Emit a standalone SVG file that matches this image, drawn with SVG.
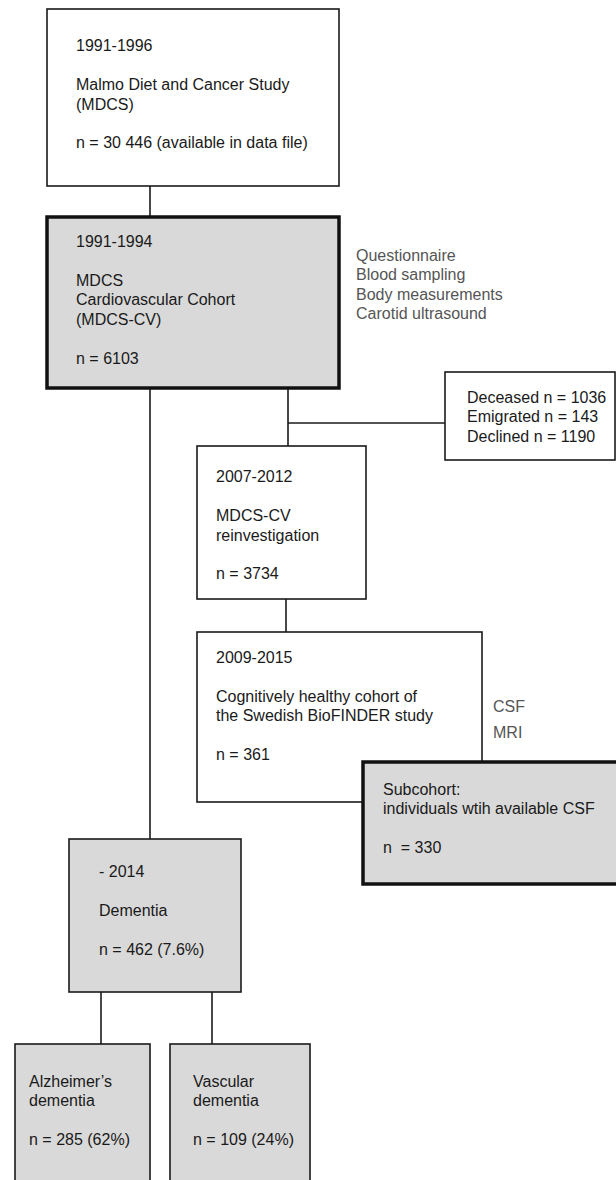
<svg xmlns="http://www.w3.org/2000/svg" width="616" height="1180" viewBox="0 0 616 1180">
<style>
text{font-family:"Liberation Sans",Arial,sans-serif;font-size:16px;fill:#1a1a1a}
.side{fill:#555}
.box{fill:#fff;stroke:#1a1a1a;stroke-width:1.6}
.gbox{fill:#d9d9d9;stroke:#1a1a1a;stroke-width:1.6}
.thick{fill:#d9d9d9;stroke:#111;stroke-width:3.5}
.conn{stroke:#1a1a1a;stroke-width:1.6;fill:none}
</style>
<rect width="616" height="1180" fill="#fff"/>
<g id="connectors">
<line class="conn" x1="150" y1="186" x2="150" y2="217"/>
<line class="conn" x1="288" y1="388" x2="288" y2="446"/>
<line class="conn" x1="288" y1="423" x2="445" y2="423"/>
<line class="conn" x1="286" y1="599" x2="286" y2="632"/>
<line class="conn" x1="150" y1="388" x2="150" y2="839"/>
<line class="conn" x1="101" y1="992" x2="101" y2="1044"/>
<line class="conn" x1="212" y1="992" x2="212" y2="1044"/>
</g>
<g id="mdcs">
<rect class="box" x="47" y="9" width="292" height="177"/>
<text x="76" y="51">1991-1996</text>
<text x="76" y="90">Malmo Diet and Cancer Study</text>
<text x="76" y="110">(MDCS)</text>
<text x="76" y="148">n = 30 446 (available in data file)</text>
</g>
<g id="mdcs-cv">
<rect class="thick" x="47" y="217" width="292" height="171"/>
<text x="76" y="247">1991-1994</text>
<text x="76" y="286">MDCS</text>
<text x="76" y="305">Cardiovascular Cohort</text>
<text x="76" y="325">(MDCS-CV)</text>
<text x="76" y="364">n = 6103</text>
</g>
<g id="measures">
<text class="side" x="356" y="261">Questionnaire</text>
<text class="side" x="356" y="280">Blood sampling</text>
<text class="side" x="356" y="300">Body measurements</text>
<text class="side" x="356" y="319">Carotid ultrasound</text>
</g>
<g id="lost">
<rect class="box" x="445" y="372" width="170" height="88"/>
<text x="467" y="403">Deceased n = 1036</text>
<text x="467" y="422">Emigrated n = 143</text>
<text x="467" y="442">Declined n = 1190</text>
</g>
<g id="reinvestigation">
<rect class="box" x="197" y="446" width="169" height="153"/>
<text x="216" y="482">2007-2012</text>
<text x="216" y="521">MDCS-CV</text>
<text x="216" y="541">reinvestigation</text>
<text x="216" y="579">n = 3734</text>
</g>
<g id="biofinder">
<rect class="box" x="197" y="632" width="285" height="170"/>
<text x="216" y="663">2009-2015</text>
<text x="216" y="702">Cognitively healthy cohort of</text>
<text x="216" y="721">the Swedish BioFINDER study</text>
<text x="216" y="760">n = 361</text>
</g>
<g id="imaging">
<text class="side" x="493" y="712">CSF</text>
<text class="side" x="493" y="738">MRI</text>
</g>
<g id="subcohort">
<rect class="thick" x="363" y="762" width="256" height="122"/>
<text x="383" y="795">Subcohort:</text>
<text x="383" y="814">individuals wtih available CSF</text>
<text x="383" y="853" xml:space="preserve">n  = 330</text>
</g>
<g id="dementia">
<rect class="gbox" x="69" y="839" width="172" height="153"/>
<text x="99" y="877">- 2014</text>
<text x="99" y="916">Dementia</text>
<text x="99" y="955">n = 462 (7.6%)</text>
</g>
<g id="alzheimers">
<rect class="gbox" x="15" y="1044" width="135" height="150"/>
<text x="29" y="1087">Alzheimer’s</text>
<text x="29" y="1106">dementia</text>
<text x="29" y="1145">n = 285 (62%)</text>
</g>
<g id="vascular">
<rect class="gbox" x="170" y="1044" width="140" height="150"/>
<text x="193" y="1087">Vascular</text>
<text x="193" y="1106">dementia</text>
<text x="193" y="1145">n = 109 (24%)</text>
</g>
</svg>
